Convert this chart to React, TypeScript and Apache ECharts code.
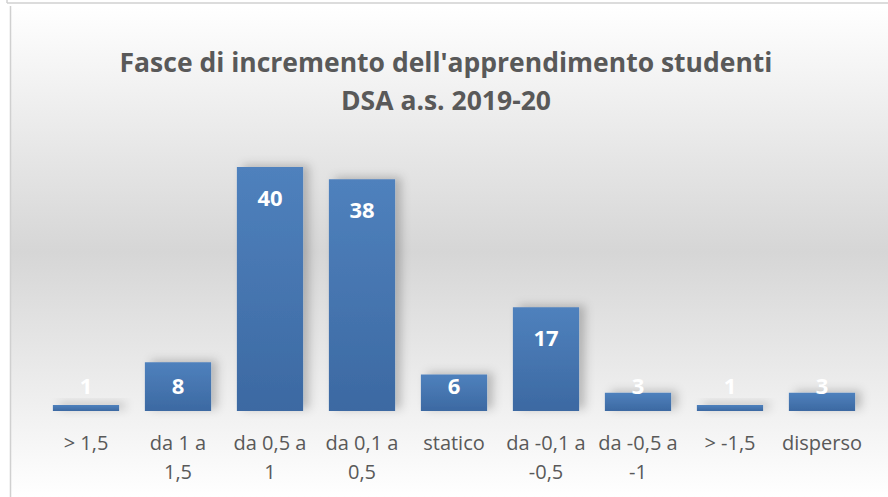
import React, { useEffect, useRef } from "react";
import * as echarts from "echarts";

const categories = [
  "> 1,5",
  "da 1 a\n1,5",
  "da 0,5 a\n1",
  "da 0,1 a\n0,5",
  "statico",
  "da -0,1 a\n-0,5",
  "da -0,5 a\n-1",
  "> -1,5",
  "disperso",
];
const values = [1, 8, 40, 38, 6, 17, 3, 1, 3];
const titleLines = ["Fasce di incremento dell'apprendimento studenti", "DSA a.s. 2019-20"];

export default function App() {
  const ref = useRef<HTMLDivElement>(null);
  useEffect(() => {
    if (!ref.current) return;
    const chart = echarts.init(ref.current, undefined, { renderer: "svg" });
    const data = values.map((v) => ({
      value: v,
      label:
        v >= 10
          ? { position: "insideTop", distance: 18 }
          : { position: "insideBottom", distance: 14 },
    }));
    const titleFont = "bold 26.5px 'Open Sans', sans-serif";
    chart.setOption({
      animation: false,
      backgroundColor: "#ffffff",
      graphic: [
        {
          type: "rect",
          shape: { x: 11, y: 6, width: 877, height: 491 },
          style: {
            fill: new echarts.graphic.LinearGradient(0, 0, 0, 1, [
              { offset: 0, color: "#ffffff" },
              { offset: 0.5, color: "#d6d6d6" },
              { offset: 1, color: "#ffffff" },
            ]),
          },
          z: -10,
          silent: true,
        },
        {
          type: "line",
          shape: { x1: 10.5, y1: 6, x2: 10.5, y2: 497 },
          style: { stroke: "#d0d0d0", lineWidth: 1.5 },
          z: -9,
        },
        {
          type: "line",
          shape: { x1: 7, y1: 3, x2: 888, y2: 3 },
          style: { stroke: "#d0d0d0", lineWidth: 1.5 },
          z: -9,
        },
        {
          type: "line",
          shape: { x1: 7, y1: 0, x2: 7, y2: 3 },
          style: { stroke: "#d0d0d0", lineWidth: 1.5 },
          z: -9,
        },
        {
          type: "text",
          x: 446,
          y: 62,
          style: {
            text: titleLines[0],
            textAlign: "center",
            textVerticalAlign: "middle",
            fill: "#595959",
            font: titleFont,
          },
        },
        {
          type: "text",
          x: 446,
          y: 100,
          style: {
            text: titleLines[1],
            textAlign: "center",
            textVerticalAlign: "middle",
            fill: "#595959",
            font: titleFont,
          },
        },
      ],
      grid: { left: 40, right: 20, top: 136.5, bottom: 86, containLabel: false },
      xAxis: {
        type: "category",
        data: categories,
        axisLine: { show: false },
        axisTick: { show: false },
        axisLabel: {
          color: "#595959",
          fontSize: 20,
          fontFamily: "'Open Sans', sans-serif",
          lineHeight: 29,
          margin: 17,
          interval: 0,
        },
      },
      yAxis: {
        type: "value",
        min: 0,
        max: 45,
        show: false,
        splitLine: { show: false },
      },
      series: [
        {
          type: "bar",
          data,
          barCategoryGap: "28%",
          itemStyle: {
            color: new echarts.graphic.LinearGradient(0, 0, 0, 1, [
              { offset: 0, color: "#4f81bd" },
              { offset: 1, color: "#3c69a2" },
            ]),
            shadowColor: "rgba(0,0,0,0.22)",
            shadowBlur: 10,
            shadowOffsetX: 6,
            shadowOffsetY: -2,
          },
          label: {
            show: true,
            color: "#ffffff",
            fontSize: 22,
            fontWeight: "bold",
            fontFamily: "'Open Sans', sans-serif",
            lineHeight: 24,
          },
        },
      ],
    });
    return () => chart.dispose();
  }, []);
  return (
    <div
      ref={ref}
      style={{ position: "fixed", left: 0, top: 0, width: 888, height: 497 }}
    />
  );
}
